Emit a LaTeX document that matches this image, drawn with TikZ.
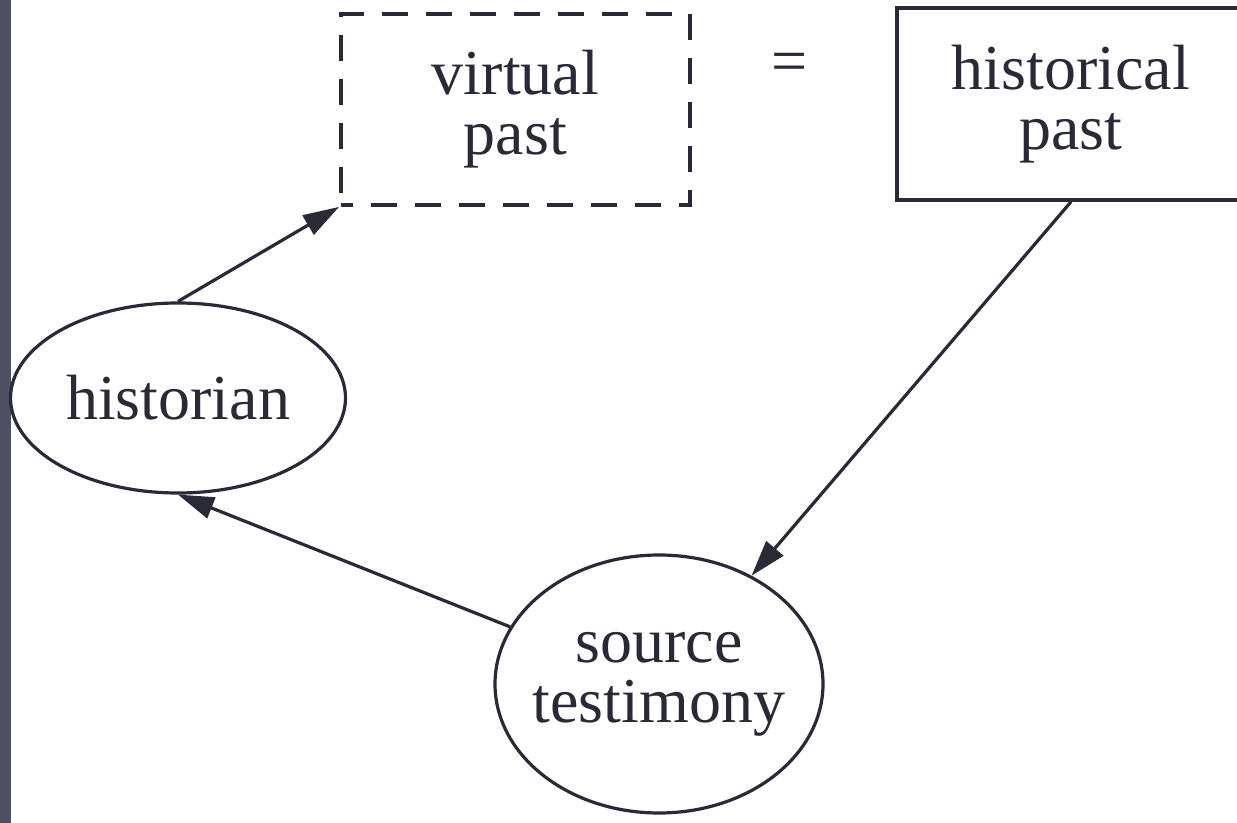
\documentclass[tikz,border=0pt]{standalone}
\usepackage{fontspec}
\setmainfont{Liberation Serif}
\usetikzlibrary{arrows.meta,shapes.geometric}
\definecolor{ink}{RGB}{40,42,56}
\definecolor{strip}{RGB}{78,81,99}
\tikzset{
  lbl/.style={font=\fontsize{32}{30}\selectfont, text=ink, align=center, inner sep=0pt},
  solidbox/.style={lbl, draw=ink, line width=1.8pt, rectangle},
  dashbox/.style={lbl, draw=ink, line width=1.9pt, rectangle, dash pattern=on 13pt off 9pt, dash phase=7pt},
  oval/.style={lbl, draw=ink, line width=1.6pt, ellipse, inner xsep=-20pt},
  conn/.style={draw=ink, line width=1.6pt, -{Triangle[length=18pt,width=11pt]}}
}
\begin{document}
\begin{tikzpicture}[x=0.5pt,y=-0.5pt]
\clip (0,0) rectangle (1237,823);
\fill[white] (0,0) rectangle (1237,823);
\fill[strip] (0,0) rectangle (11,823);
\node[dashbox, minimum width=174.5pt, minimum height=95.5pt] (vp) at (515.5,109.5) {virtual\\past};
\node[solidbox, minimum width=174pt, minimum height=96pt] (hp) at (1071,104) {historical\\past};
\node[lbl] (eq) at (790,68) {=};
\node[oval, minimum width=167.5pt, minimum height=95pt] (hist) at (178,398) {historian};
\node[oval, minimum width=164pt, minimum height=129pt] (st) at (659,684) {source\\testimony};
\draw[conn] (hist.north) -- (vp.south west);
\draw[conn] (hp.south) -- (st);
\draw[conn] (st.159) -- (hist.south);
\end{tikzpicture}
\end{document}
